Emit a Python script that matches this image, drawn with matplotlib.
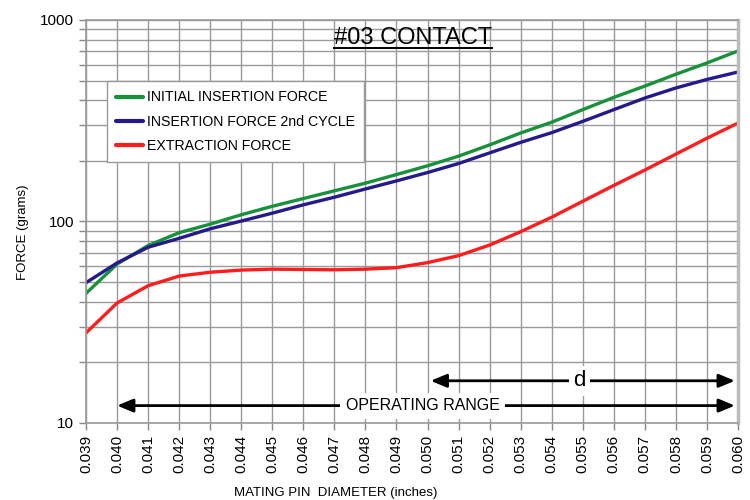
import matplotlib
matplotlib.use("Agg")
import matplotlib.pyplot as plt
import numpy as np
from matplotlib.ticker import FixedLocator, LogLocator, NullFormatter

plt.rcParams['font.family'] = ['Liberation Sans', 'DejaVu Sans']

# pin diameter (inches)
diam = [0.039, 0.040, 0.041, 0.042, 0.043, 0.044, 0.045, 0.046, 0.047, 0.048, 0.049,
        0.050, 0.051, 0.052, 0.053, 0.054, 0.055, 0.056, 0.057, 0.058, 0.059, 0.060]
# force (grams)
initial = [44, 61.5, 76, 88, 97, 108, 119, 130, 142, 155, 171,
           189, 211, 240, 275, 311, 359, 413, 470, 538, 612, 702]
second = [49.7, 62.3, 74.5, 82.5, 92, 100.5, 110, 121, 132, 145, 159,
          175, 194, 219, 247, 276, 314, 359, 410, 460, 507, 552]
extraction = [28, 39.4, 48, 53.6, 56, 57.4, 58, 57.8, 57.6, 58, 59,
              62.5, 67.7, 76.4, 89, 105, 126, 151, 180, 216, 259, 308]
names = ["INITIAL INSERTION FORCE", "INSERTION FORCE 2nd CYCLE", "EXTRACTION FORCE"]
colors = ["#17913a", "#241a8c", "#ff1c1c"]

fig = plt.figure(figsize=(7.5, 5), dpi=100)
ax = fig.add_axes([0.1147, 0.154, 0.8693, 0.806])

for vals, name, c in zip([initial, second, extraction], names, colors):
    ax.plot(diam, vals, color=c, lw=2.4, label=name,
            solid_capstyle='round', solid_joinstyle='round')

ax.set_yscale('log')
ax.set_ylim(10, 1000)
ax.set_xlim(0.039, 0.060)
ax.xaxis.set_major_locator(FixedLocator(diam))
ax.set_xticklabels([f"{d:.3f}" for d in diam], rotation=90, fontsize=11)
ax.yaxis.set_major_locator(FixedLocator([10, 100, 1000]))
ax.set_yticklabels(["10", "100", "1000"], fontsize=11)
ax.yaxis.set_minor_locator(LogLocator(base=10, subs=np.arange(2, 10)))
ax.yaxis.set_minor_formatter(NullFormatter())
ax.tick_params(which='both', length=5, color='#888888', width=1)
ax.grid(True, which='both', color='#9a9a9a', lw=1)
for s in ax.spines.values():
    s.set_color('#9a9a9a')
    s.set_linewidth(1.2)
ax.spines['right'].set_linewidth(2.5)
ax.spines['right'].set_color('#bbbbbb')

ax.set_xlabel("MATING PIN  DIAMETER (inches)", fontsize=9.5)
ax.xaxis.set_label_coords(0.383, -0.16)
ax.set_ylabel("FORCE (grams)", fontsize=9.5)
ax.yaxis.set_label_coords(-0.088, 0.474)

leg = ax.legend(loc='upper left', bbox_to_anchor=(0.032, 0.848), fontsize=10.2,
                fancybox=False, framealpha=1, edgecolor='#999999',
                handlelength=1.9, handletextpad=0.25, borderpad=0.65,
                labelspacing=0.72, borderaxespad=0)
leg.get_frame().set_linewidth(1)
for h in leg.get_lines():
    h.set_linewidth(3)

# title, underlined
t = ax.text(0.502, 0.982, "#03 CONTACT", transform=ax.transAxes, ha='center',
            va='top', fontsize=17)
fig.canvas.draw()
bb = t.get_window_extent().transformed(ax.transAxes.inverted())
ax.plot([bb.x0, bb.x1], [bb.y0 + 0.004, bb.y0 + 0.004], transform=ax.transAxes,
        color='black', lw=1.4)

# range arrows
arrow = dict(arrowstyle='<|-|>,head_length=0.6,head_width=0.25', color='black',
             lw=2, mutation_scale=16, shrinkA=0, shrinkB=0)
ax.annotate("", xy=(0.040, 12.2), xytext=(0.0599, 12.2), arrowprops=arrow)
ax.text(0.04985, 12.2, "OPERATING RANGE", ha='center', va='center', fontsize=11.5,
        bbox=dict(facecolor='white', edgecolor='none', pad=4))
ax.annotate("", xy=(0.0501, 16.2), xytext=(0.0599, 16.2), arrowprops=arrow)
ax.text(0.0549, 16.2, "d", ha='center', va='center', fontsize=16,
        bbox=dict(facecolor='white', edgecolor='none', pad=3))

fig.savefig("out.png", dpi=100)
